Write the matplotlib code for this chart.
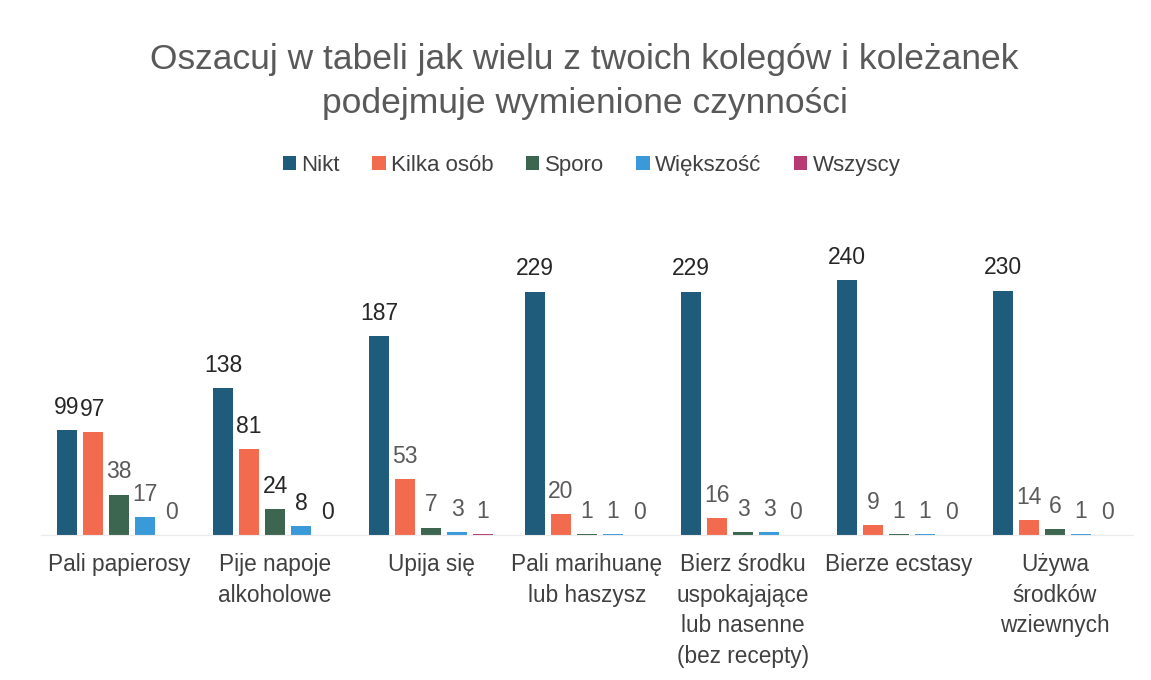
import numpy as np
import matplotlib.pyplot as plt

plt.rcParams['font.family'] = ['Liberation Sans', 'DejaVu Sans']

categories = [
    "Pali papierosy",
    "Pije napoje\nalkoholowe",
    "Upija się",
    "Pali marihuanę\nlub haszysz",
    "Bierz środku\nuspokajające\nlub nasenne\n(bez recepty)",
    "Bierze ecstasy",
    "Używa\nśrodków\nwziewnych",
]
series_names = ["Nikt", "Kilka osób", "Sporo", "Większość", "Wszyscy"]
nikt = [99, 138, 187, 229, 229, 240, 230]
kilka = [97, 81, 53, 20, 16, 9, 14]
sporo = [38, 24, 7, 1, 3, 1, 6]
wiekszosc = [17, 8, 3, 1, 3, 1, 1]
wszyscy = [0, 0, 1, 0, 0, 0, 0]

values = [nikt, kilka, sporo, wiekszosc, wszyscy]
colors = ['#1F5C7B', '#F26B4F', '#3C6650', '#3A9AD9', '#B83A73']
dark, grey = '#262626', '#5A5A5A'

fig = plt.figure(figsize=(11.51, 6.80), dpi=100)
ax = fig.add_axes([41 / 1151, 1 - 535 / 680, 1092 / 1151, 287 / 680])

x = np.arange(len(categories))
step = 1 / 6
width = 0.128
for i, (name, vals) in enumerate(zip(series_names, values)):
    pos = x + (i - 2) * step
    ax.bar(pos, vals, width, color=colors[i], label=name)
    for g, (xp, v) in enumerate(zip(pos, vals)):
        # tallest bars and the second group get darker labels
        c = dark if (i == 0 or g == 1 or (g == 0 and i == 1)) else grey
        ax.annotate(str(v), (xp, v), xytext=(0, 8), textcoords='offset points',
                    ha='center', va='bottom', fontsize=16.5, color=c)

ax.set_xlim(-0.5, 6.5)
ax.set_ylim(0, 270)
ax.set_yticks([])
ax.set_xticks(x)
ax.set_xticklabels(categories, fontsize=16.3, color='#404040', linespacing=1.42, va='top')
ax.tick_params(axis='x', length=0, pad=13)
for side in ['top', 'left', 'right']:
    ax.spines[side].set_visible(False)
ax.spines['bottom'].set_color('#EBEBEB')

fig.text(0.508, 0.88, "Oszacuj w tabeli jak wielu z twoich kolegów i koleżanek\npodejmuje wymienione czynności",
         ha='center', va='center', fontsize=25.5, color='#595959', linespacing=1.45)

handles, labels = ax.get_legend_handles_labels()
fig.legend(handles, labels, loc='center', bbox_to_anchor=(0.514, 0.757), ncol=5,
           frameon=False, fontsize=16, labelcolor='#404040', handlelength=0.6,
           handleheight=0.6, handletextpad=0.25, columnspacing=1.45)

fig.savefig('out.png', dpi=100, facecolor='white')
